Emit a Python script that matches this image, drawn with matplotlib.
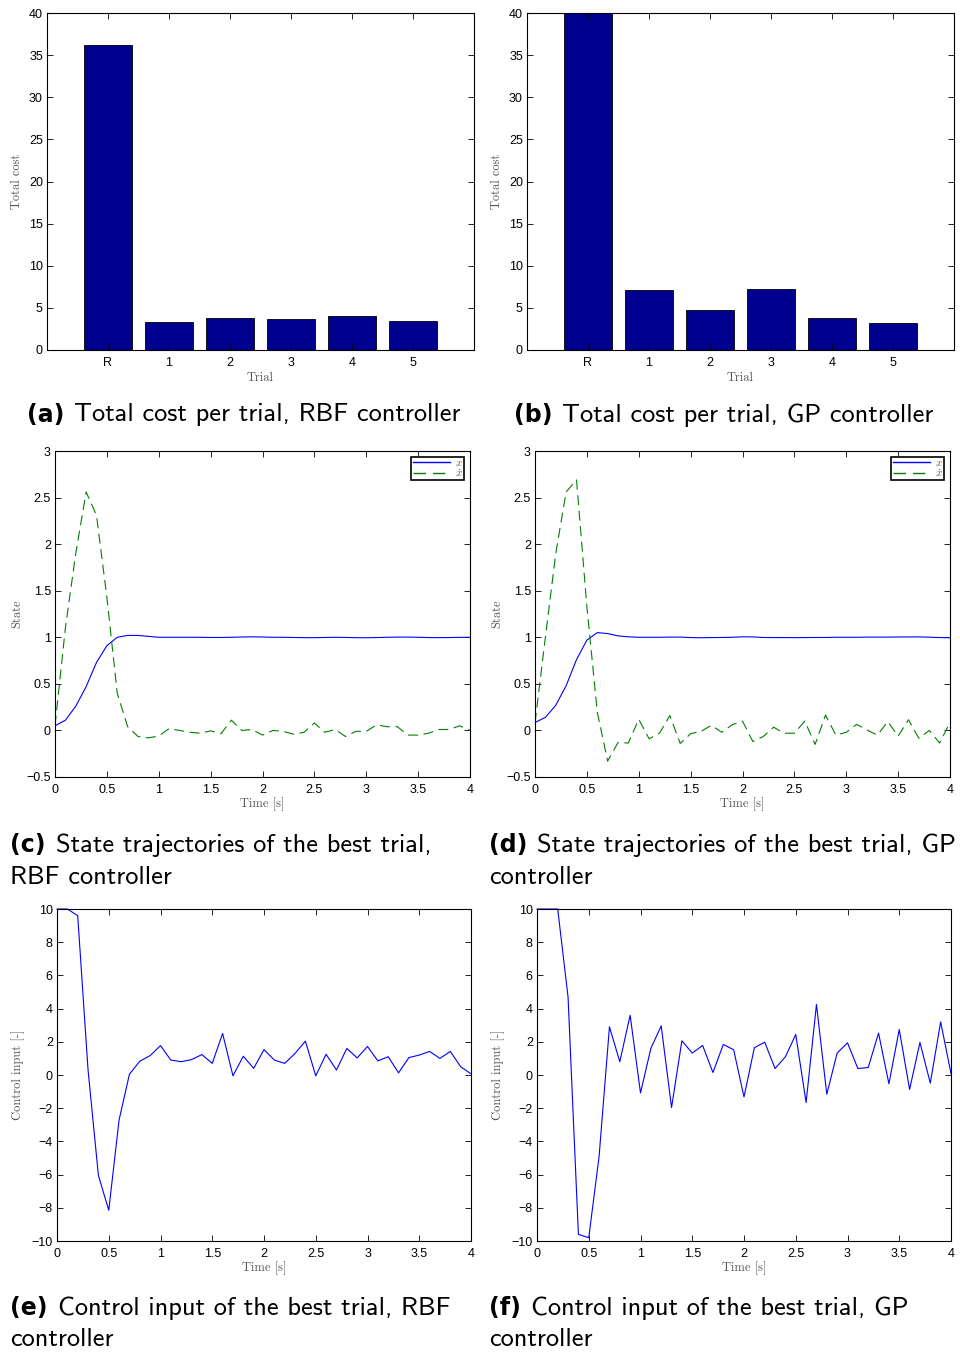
import numpy as np
import matplotlib
matplotlib.use("Agg")
import matplotlib.pyplot as plt
from matplotlib.ticker import FuncFormatter

# total cost per trial (R = random initial trial)
trials = ['R', '1', '2', '3', '4', '5']
rbf_cost = [36.2, 3.3, 3.85, 3.65, 4.05, 3.45]
gp_cost = [42.0, 7.1, 4.8, 7.2, 3.8, 3.25]

# time grid of the best trial, 0.1 s steps
t = np.linspace(0, 4, 41)

rbf_x = [0.05, 0.11, 0.26, 0.47, 0.73, 0.91, 1.00, 1.02, 1.02, 1.01, 1.00,
         1.00, 1.00, 1.00, 1.00, 0.998, 0.998, 1.00, 1.003, 1.005, 1.003,
         1.00, 1.00, 0.998, 0.996, 0.996, 0.998, 1.00, 0.998, 0.996, 0.995,
         0.997, 1.00, 1.002, 1.002, 1.00, 0.997, 0.996, 0.997, 0.999, 1.00]
rbf_xd = [0.05, 1.10, 1.90, 2.56, 2.31, 1.43, 0.40, 0.04, -0.065, -0.08, -0.06,
          0.02, 0.0, -0.02, -0.03, -0.005, -0.035, 0.11, 0.0, 0.01, -0.05,
          0.0, -0.01, -0.04, -0.02, 0.08, -0.02, 0.01, -0.065, -0.01, -0.01,
          0.06, 0.04, 0.04, -0.05, -0.05, -0.03, 0.01, 0.01, 0.05, 0.0]
gp_x = [0.085, 0.14, 0.27, 0.48, 0.76, 0.97, 1.05, 1.04, 1.015, 1.005, 1.00,
        1.00, 1.00, 1.002, 1.002, 0.997, 0.995, 0.997, 0.998, 1.00, 1.005,
        1.004, 0.998, 0.997, 0.997, 0.996, 0.997, 0.998, 0.998, 1.00, 1.00,
        1.00, 1.002, 1.002, 1.002, 1.003, 1.004, 1.004, 1.001, 0.997, 0.995]
gp_xd = [0.08, 1.0, 1.9, 2.56, 2.69, 1.33, 0.2, -0.33, -0.13, -0.135, 0.12,
         -0.09, -0.03, 0.16, -0.14, -0.035, -0.01, 0.055, -0.02, 0.06, 0.1,
         -0.12, -0.065, 0.035, -0.03, -0.03, 0.1, -0.15, 0.165, -0.05, -0.02,
         0.065, 0.005, -0.05, 0.095, -0.06, 0.115, -0.085, 0.0, -0.135, 0.085]

rbf_u = [10, 10, 9.6, 0.3, -6.05, -8.15, -2.7, 0.05, 0.83, 1.17, 1.77,
         0.9, 0.8, 0.93, 1.23, 0.7, 2.5, -0.05, 1.13, 0.4, 1.53,
         0.9, 0.7, 1.3, 2.04, -0.05, 1.25, 0.3, 1.6, 1.03, 1.72,
         0.85, 1.1, 0.13, 1.05, 1.2, 1.42, 1.0, 1.42, 0.5, 0.07]
gp_u = [10, 10, 10, 4.7, -9.6, -9.8, -4.9, 2.9, 0.8, 3.6, -1.08,
        1.6, 2.96, -1.96, 2.06, 1.32, 1.78, 0.15, 1.84, 1.52, -1.32,
        1.64, 1.98, 0.39, 1.1, 2.44, -1.66, 4.25, -1.16, 1.32, 1.94,
        0.39, 0.45, 2.52, -0.53, 2.74, -0.87, 1.96, -0.49, 3.2, 0.09]

captions = [
    ('(a)', ['Total cost per trial, RBF controller']),
    ('(b)', ['Total cost per trial, GP controller']),
    ('(c)', ['State trajectories of the best trial,', 'RBF controller']),
    ('(d)', ['State trajectories of the best trial, GP', 'controller']),
    ('(e)', ['Control input of the best trial, RBF', 'controller']),
    ('(f)', ['Control input of the best trial, GP', 'controller']),
]

W, H = 960, 1354
plt.rcParams['mathtext.fontset'] = 'cm'
plt.rcParams['axes.unicode_minus'] = True
fig = plt.figure(figsize=(W / 100, H / 100), dpi=100)

TICK_FONT = 'Liberation Sans'
LABEL_FONT = 'cmr10'
CAP_FONT = 'cmss10'


def px_axes(l, t_, r, b):
    return fig.add_axes([l / W, 1 - b / H, (r - l) / W, (b - t_) / H])


def num_fmt(v, pos):
    return ('%g' % v).replace('-', '\u2212')


def style(ax, xlabel, ylabel, xlab_off, ylab_off):
    ax.tick_params(direction='in', length=4, width=0.6, top=True, right=True,
                   labelsize=9)
    ax.tick_params(axis='x', pad=5)
    ax.tick_params(axis='y', pad=3)
    for lab in ax.get_xticklabels() + ax.get_yticklabels():
        lab.set_fontfamily(TICK_FONT)
    for s in ax.spines.values():
        s.set_linewidth(0.8)
    ax.set_xlabel(xlabel, fontsize=9, family=LABEL_FONT, color='#555555')
    ax.set_ylabel(ylabel, fontsize=9, family=LABEL_FONT, color='#555555')
    ax.xaxis.label.set_va('center')
    ax.yaxis.label.set_va('center')
    ax.xaxis.set_label_coords(0.5, xlab_off)
    ax.yaxis.set_label_coords(ylab_off, 0.5)


# bar charts
bar_boxes = [(47, 13, 474, 350), (527, 13, 954, 350)]
for box, cost in zip(bar_boxes, [rbf_cost, gp_cost]):
    ax = px_axes(*box)
    pos = np.arange(1, len(trials) + 1)
    ax.bar(pos, cost, width=0.8, color='#00008F', edgecolor='black', linewidth=0.6)
    ax.set_xlim(0, 7)
    ax.set_ylim(0, 40)
    ax.set_xticks(pos)
    ax.set_xticklabels(trials)
    ax.set_yticks(np.arange(0, 41, 5))
    ax.yaxis.set_major_formatter(FuncFormatter(num_fmt))
    style(ax, 'Trial', 'Total cost', -28 / 337, -30 / 427)

# state trajectories
state_boxes = [(55, 451, 470, 777), (535, 451, 950, 777)]
for box, xs, xds in zip(state_boxes, [rbf_x, gp_x], [rbf_xd, gp_xd]):
    ax = px_axes(*box)
    ax.plot(t, xs, color='blue', lw=0.8, label=r'$x$')
    ax.plot(t, xds, color='#008000', lw=0.8, ls=(0, (9, 5)), label=r'$\dot{x}$')
    ax.set_xlim(0, 4)
    ax.set_ylim(-0.5, 3)
    ax.set_xticks(np.arange(0, 4.01, 0.5))
    ax.set_yticks(np.arange(-0.5, 3.01, 0.5))
    ax.xaxis.set_major_formatter(FuncFormatter(num_fmt))
    ax.yaxis.set_major_formatter(FuncFormatter(num_fmt))
    style(ax, 'Time [s]', 'State', -27 / 326, -38 / 415)
    leg = ax.legend(loc='upper right', fontsize=8, handlelength=3.4,
                    handletextpad=0.4, borderpad=0.15, labelspacing=-0.1,
                    borderaxespad=0.5, fancybox=False, framealpha=1,
                    edgecolor='black')
    leg.get_frame().set_linewidth(1.2)
    for line in leg.get_lines():
        line.set_linewidth(1.0)
    for txt in leg.get_texts():
        txt.set_color('#555555')

# control inputs
ctrl_boxes = [(57, 909, 471, 1241), (537, 909, 951, 1241)]
for box, u in zip(ctrl_boxes, [rbf_u, gp_u]):
    ax = px_axes(*box)
    ax.plot(t, u, color='blue', lw=0.8, clip_on=False)
    ax.set_xlim(0, 4)
    ax.set_ylim(-10, 10)
    ax.set_xticks(np.arange(0, 4.01, 0.5))
    ax.set_yticks(np.arange(-10, 10.1, 2))
    ax.xaxis.set_major_formatter(FuncFormatter(num_fmt))
    ax.yaxis.set_major_formatter(FuncFormatter(num_fmt))
    style(ax, 'Time [s]', 'Control input [-]', -27 / 332, -39 / 414)

# sub-figure captions
cap_pos = [(27, 415), (514, 415), (10, 845), (489, 845), (10, 1308), (489, 1308)]
renderer = fig.canvas.get_renderer()
for (tag, lines), (cx, cy) in zip(captions, cap_pos):
    lab = fig.text(cx / W, 1 - cy / H, tag, fontsize=17, fontweight='bold',
                   family='DejaVu Sans', va='center', ha='left')
    bb = lab.get_window_extent(renderer)
    fig.text((bb.x1 + 10) / W, 1 - cy / H, lines[0], fontsize=19,
             family=CAP_FONT, va='center', ha='left')
    if len(lines) > 1:
        fig.text(cx / W, 1 - (cy + 32) / H, lines[1], fontsize=19,
                 family=CAP_FONT, va='center', ha='left')

fig.savefig('out.png', dpi=100)
